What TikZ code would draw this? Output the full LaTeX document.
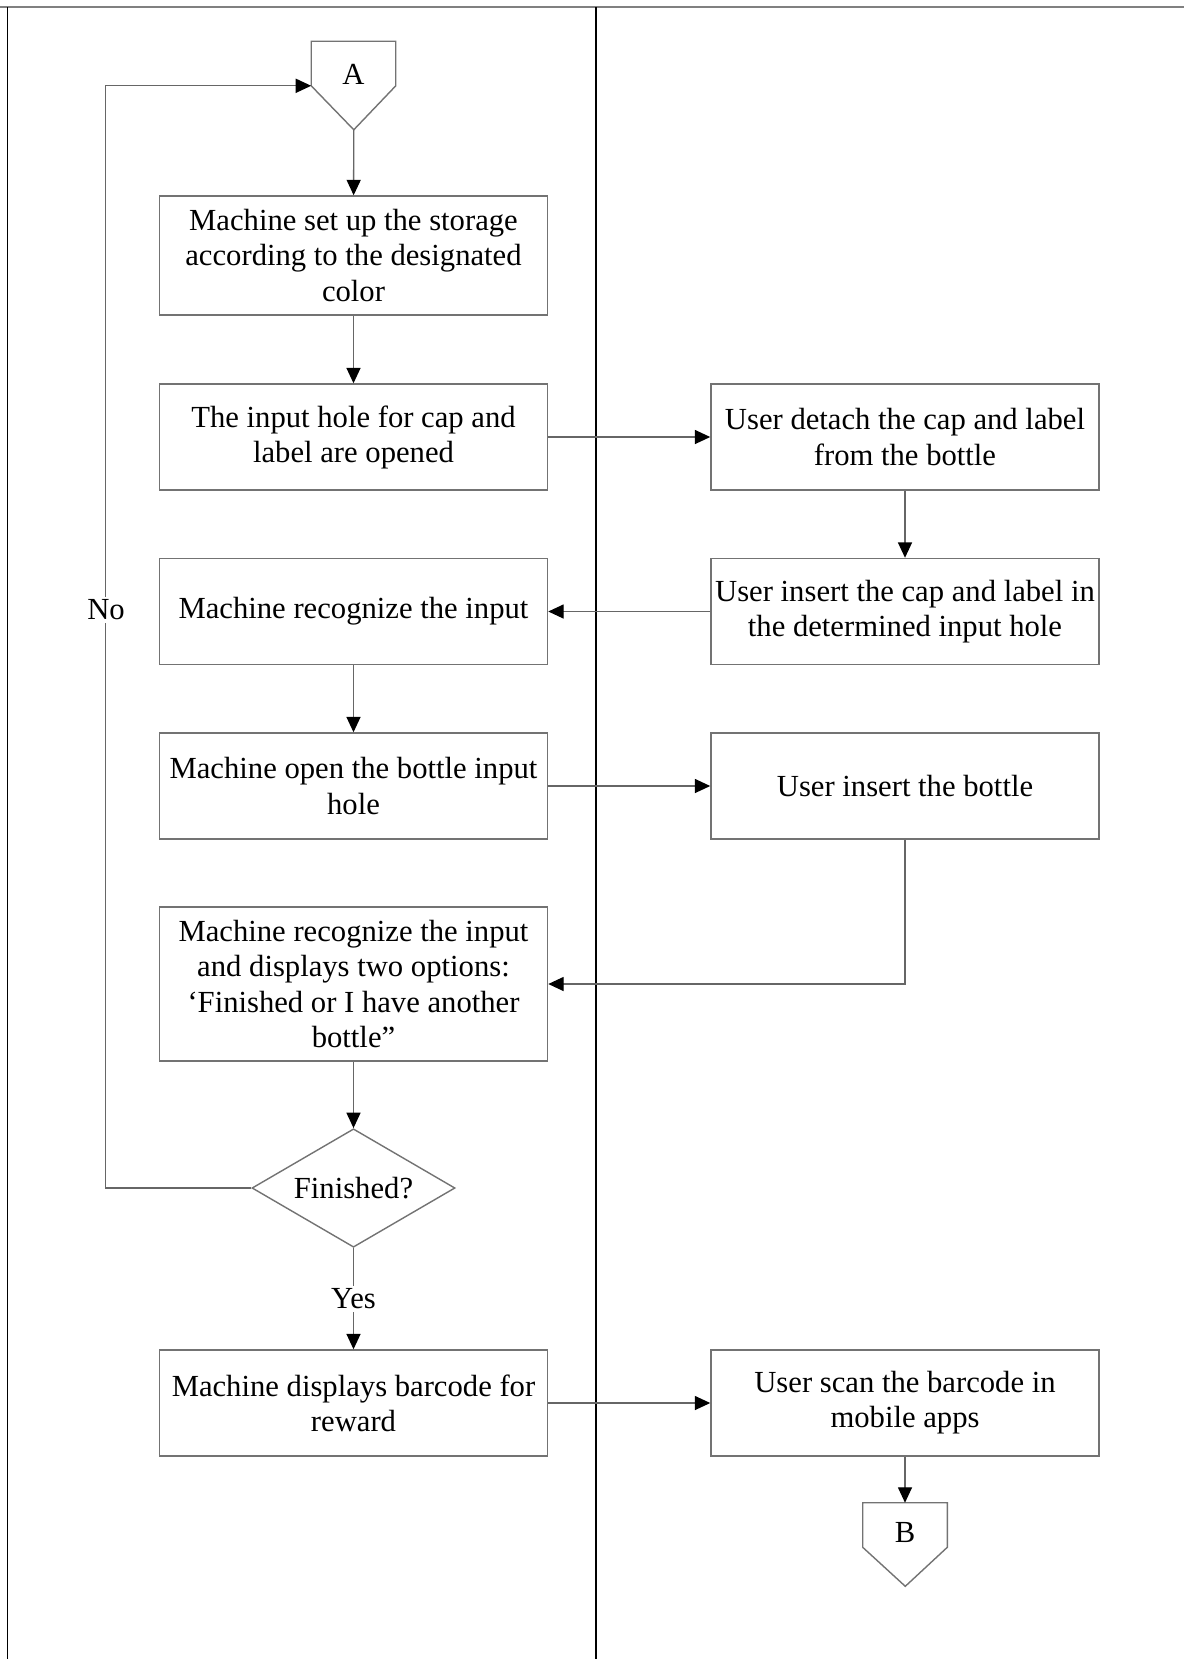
\documentclass[tikz,border=0pt]{standalone}
\usepackage{fontspec}
\setmainfont{Liberation Serif}
\usetikzlibrary{shapes.geometric, arrows.meta}

\begin{document}
\begin{tikzpicture}[x=0.025cm, y=-0.025cm,
    every node/.style={font=\fontsize{21.8}{24.9}\selectfont},
    procbox/.style={draw=black!55, line width=1pt, align=center, minimum width=9.7cm, minimum height=2.65cm, inner sep=2pt},
    offpage/.style={minimum width=2.1cm, minimum height=1.1cm, inner sep=0pt},
    decision/.style={diamond, draw=black!55, line width=1pt, aspect=1.7, inner sep=0pt, minimum width=5.075cm, minimum height=2.96cm},
    flow/.style={draw=black!60, line width=1pt, -{Triangle[length=11pt, width=10pt, color=black]}},
    flowlabel/.style={fill=white, inner sep=2pt}]
  \useasboundingbox (0,0) rectangle (1184,1659);

  % Lanes
  \draw[black!50, line width=1pt] (0,7) -- (1184,7);
  \draw[line width=1pt] (7.5,7) -- (7.5,1659);
  \draw[line width=1pt] (596,7) -- (596,1659);

  % Machine lane
  \node[offpage, label={[yshift=-7.5pt]center:A}] (A) at (353.5,63.5) {};
  \draw[black!55, line width=1pt] (A.south west) -- (A.north west) -- (A.north east) -- (A.south east) -- ++(-42,44) coordinate (Atip) -- (A.south west);
  \node[procbox, minimum height=2.975cm] (setup) at (353.5,255.5) {Machine set up the storage\\according to the designated\\color};
  \node[procbox] (open) at (353.5,437) {The input hole for cap and\\label are opened};
  \node[procbox] (recog) at (353.5,611.5) {Machine recognize the input};
  \node[procbox] (bottle) at (353.5,786) {Machine open the bottle input\\hole};
  \node[procbox, minimum height=3.85cm] (options) at (353.5,984) {Machine recognize the input\\and displays two options:\\‘Finished or I have another\\bottle”};
  \node[decision] (done) at (353.5,1188) {Finished?};
  \node[procbox] (barcode) at (353.5,1403) {Machine displays barcode for\\reward};

  % User lane
  \node[procbox] (detach) at (905,437) {User detach the cap and label\\from the bottle};
  \node[procbox] (insertcap) at (905,611.5) {User insert the cap and label in\\the determined input hole};
  \node[procbox] (insertbottle) at (905,786) {User insert the bottle};
  \node[procbox] (scan) at (905,1403) {User scan the barcode in\\mobile apps};
  \node[offpage, label={[yshift=-5pt]center:B}] (B) at (905,1525) {};
  \draw[black!55, line width=1pt] (B.south west) -- (B.north west) -- (B.north east) -- (B.south east) -- ++(-42,39) -- (B.south west);

  % Flow
  \draw[flow] (Atip) -- (setup);
  \draw[flow] (setup) -- (open);
  \draw[flow] (open) -- (detach);
  \draw[flow] (detach) -- (insertcap);
  \draw[flow] (insertcap) -- (recog);
  \draw[flow] (recog) -- (bottle);
  \draw[flow] (bottle) -- (insertbottle);
  \draw[flow] (insertbottle.south) |- (options.east);
  \draw[flow] (options) -- (done);
  \draw[flow] (done.west) -- ++(-146,0) |- (A.south west);
  \node[flowlabel] (no) at (106,610) {No};
  \draw[flow] (done) -- (barcode) node[flowlabel, pos=0.5] (yes) {Yes};
  \draw[flow] (barcode) -- (scan);
  \draw[flow] (scan) -- (B);
\end{tikzpicture}
\end{document}
